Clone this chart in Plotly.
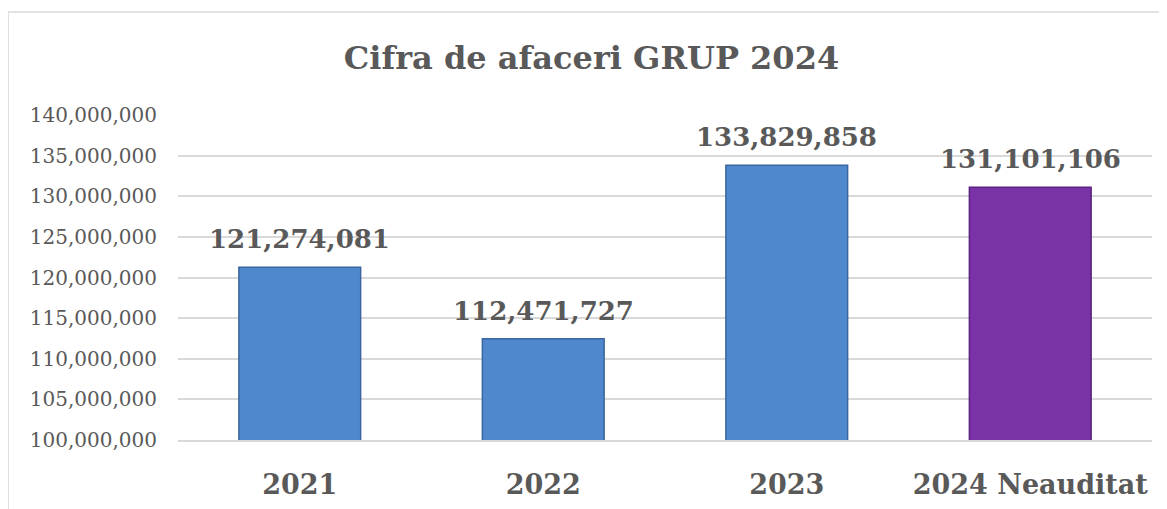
import plotly.graph_objects as go

# valori cifra de afaceri
categorii = ["2021", "2022", "2023", "2024 Neauditat"]
valori = [121274081, 112471727, 133829858, 131101106]
culori = ["#5088cd", "#5088cd", "#5088cd", "#7a33a6"]
contur = ["#3a659e", "#3a659e", "#3a659e", "#5a2380"]

y_ticks = [100000000, 105000000, 110000000, 115000000, 120000000,
           125000000, 130000000, 135000000, 140000000]

FONT = "DejaVu Serif"
GRAY = "#595959"

fig = go.Figure()
fig.add_trace(go.Bar(
    x=categorii, y=valori,
    marker=dict(color=culori, line=dict(color=contur, width=1.5)),
    cliponaxis=False,
    width=0.5,
))

# etichete valori deasupra barelor (x = indexul categoriei)
for i, v in enumerate(valori):
    fig.add_annotation(x=i, y=v, text=f"<b>{v:,}</b>", showarrow=False,
                       yanchor="bottom", yshift=11,
                       font=dict(family=FONT, size=26, color=GRAY))

fig.update_layout(
    width=1167, height=509,
    margin=dict(l=170, r=23, t=107, b=77),
    paper_bgcolor="white", plot_bgcolor="white",
    showlegend=False,
    title=dict(text="<b>Cifra de afaceri GRUP 2024</b>", x=0.5, xanchor="center",
               y=0.902, yanchor="middle",
               font=dict(family=FONT, size=32, color=GRAY)),
    xaxis=dict(type="category", categoryarray=categorii,
               tickfont=dict(family=FONT, size=27, color=GRAY, weight="bold"),
               showline=True, linecolor="#d9d9d9", linewidth=1.5,
               ticks="", ticklabelstandoff=20, automargin=False),
    yaxis=dict(range=[100000000, 140000000], tickvals=y_ticks,
               tickformat=",d",
               tickfont=dict(family=FONT, size=20, color=GRAY),
               showgrid=True, gridcolor="#d9d9d9", gridwidth=1.5,
               zeroline=False, ticklabelstandoff=20, automargin=False),
    shapes=[dict(type="rect", xref="paper", yref="paper",
                 x0=-0.1745, x1=1.03, y0=-0.3, y1=1.317,
                 line=dict(color="#d9d9d9", width=1.5), layer="below")],
)

fig.write_html("out.html")
